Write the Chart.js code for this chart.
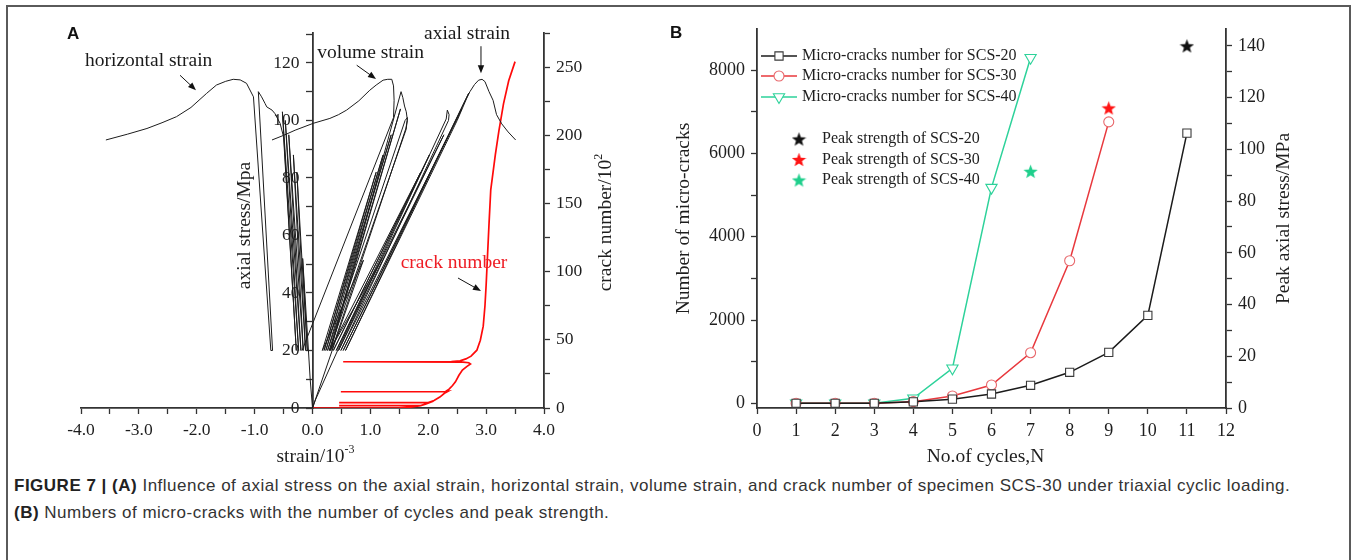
<!DOCTYPE html>
<html>
<head>
<meta charset="utf-8">
<script src="https://cdn.jsdelivr.net/npm/chart.js@4.4.1/dist/chart.umd.min.js"></script>
<style>
html,body{margin:0;padding:0;background:#fff;}
body{width:1357px;height:560px;position:relative;overflow:hidden;}
#frame{position:absolute;left:6px;top:5px;width:1345px;height:640px;border:2px solid #5a5a5a;box-sizing:border-box;}
canvas{position:absolute;top:0;}
#cA{left:0;}
#cB{left:660px;}
#caption{position:absolute;left:14px;top:472px;font-family:'Liberation Sans',Arial,sans-serif;font-size:17px;letter-spacing:0.5px;line-height:27px;color:#333;white-space:nowrap;}
#caption b{color:#222;}
</style>
</head>
<body>
<div id="frame"></div>
<canvas id="cA" width="660" height="470"></canvas>
<canvas id="cB" width="697" height="470"></canvas>
<div id="caption"><b>FIGURE 7 | (A)</b> Influence of axial stress on the axial strain, horizontal strain, volume strain, and crack number of specimen SCS-30 under triaxial cyclic loading.<br><b>(B)</b> Numbers of micro-cracks with the number of cycles and peak strength.</div>
<script>
// ================= PANEL A DATA =================
const strainTicks = [-4,-3.5,-3,-2.5,-2,-1.5,-1,-0.5,0,0.5,1,1.5,2,2.5,3,3.5,4];
const stressTicks = [0,10,20,30,40,50,60,70,80,90,100,110,120,130];
const crackTicks = [0,25,50,75,100,125,150,175,200,225,250,275];

// [strain (10^-3), axial stress (MPa)]
const horizontalStrain = [[0,0],[-0.04,10],[-0.07,20],[-0.17,52],[-0.09,20],[-0.27,82],[-0.12,20],[-0.33,88],
  [-0.16,20],[-0.41,95],[-0.20,20],[-0.47,100],[-0.24,20],[-0.52,103],[-0.28,20],[-0.50,94.3],[-0.56,99],
  [-0.65,102.4],[-0.70,103.6],[-0.79,104.7],[-0.82,105.9],[-0.88,108.2],[-0.936,110],[-0.69,20],[-0.72,20],
  [-1.02,108.2],[-1.14,112.9],[-1.25,114.1],[-1.37,114.3],[-1.5,113.6],[-1.66,112.3],[-1.83,109.4],[-2.1,104.5],
  [-2.35,101.3],[-2.6,99.2],[-2.86,97.2],[-3.2,95.2],[-3.57,93.2]];
const volumeStrain = [[0,0],[0.45,26.5],[0.88,51.4],[0.17,20],[1.10,82],[0.20,20],[1.22,88],[0.23,20],[1.36,95],
  [0.26,20],[1.60,100],[1.64,101],[1.62,97],[0.29,20],[1.52,104],[0.31,20],[1.53,110],[1.56,108],[1.59,105],
  [1.62,103],[1.64,100],[1.61,97],[0.33,20]];
const volumeStrainLast = [[-0.18,20],[1.40,101],[1.41,107],[1.40,112],[1.37,114.3],[1.3,114.3],[1.22,114],
  [1.1,112.3],[0.99,110.5],[0.8,106.8],[0.59,103.6],[0.45,102],[0.30,100.7],[0.014,99],[-0.3,96.6],[-0.5,94.8],[-0.70,93.2]];
const axialStrain = [[0,0],[0.05,2.8],[0.45,20.7],[0.8,36],[1.2,52],[0.30,20],[1.87,82],[0.36,20],[2.02,88],
  [0.41,20],[2.27,95],[0.45,20],[2.31,100.5],[2.33,103.6],[2.36,102],[2.35,100],[0.49,20],[2.58,104],[0.53,20],
  [2.70,109.5],[0.57,20],[2.5,100],[2.66,107.5],[2.72,110],[2.8,112.5],[2.87,114],[2.93,114.3],[2.98,113.5],
  [3.05,110],[3.12,107],[3.18,102],[3.27,98.8],[3.38,96],[3.51,93.2]];
// [axial strain (10^-3), crack number (10^2)]
const crackNumber = [[0,0],[1.5,0.1],[1.7,0.7],[1.87,1.7],[0.46,1.7],[1.87,1.8],[1.95,2.8],[2.02,3.9],[0.46,3.9],
  [2.0,4.0],[2.1,5.5],[2.2,8],[2.28,10.8],[2.34,12.2],[2.3,12],[0.49,11.9],[2.3,12.1],[2.36,13.8],[2.42,16.5],
  [2.47,19.2],[2.53,24],[2.59,27.8],[2.67,30.5],[2.73,32.3],[2.70,33.2],[2.6,33.6],[0.53,33.9],[2.4,34.1],
  [2.55,34.6],[2.65,36],[2.74,38],[2.84,42.4],[2.90,49.7],[2.95,60],[2.98,75],[3.0,90],[3.02,108],[3.05,135],
  [3.08,160],[3.16,186],[3.22,203],[3.30,223],[3.39,240],[3.5,254]];

// ================= PANEL B DATA =================
const cycleTicks = [0,1,2,3,4,5,6,7,8,9,10,11,12];
const microCrackTicks = [0,1000,2000,3000,4000,5000,6000,7000,8000];
const peakStressTicks = [0,10,20,30,40,50,60,70,80,90,100,110,120,130,140];
const cycles = [1,2,3,4,5,6,7,8,9,10,11];
const microCracksSCS20 = [0,0,0,35,100,223,432,744,1224,2112,6490];
const microCracksSCS30 = [0,0,0,40,175,440,1215,3424,6760];
const microCracksSCS40 = [0,0,0,120,840,5180,8300];
const peakCycle = [11,9,7];
const peakStrength = [140,116,91.5];
const lineSeriesNames = ['Micro-cracks number for SCS-20','Micro-cracks number for SCS-30','Micro-cracks number for SCS-40'];
const starSeriesNames = ['Peak strength of SCS-20','Peak strength of SCS-30','Peak strength of SCS-40'];

// ================= STYLE =================
const SERIF = "'Liberation Serif','Times New Roman',serif";
const SANS = "'Liberation Sans',Arial,sans-serif";
const INK = '#1e1e1e';
const AXIS = '#333';
Chart.defaults.font.family = SERIF;

const toXY = arr => arr.map(p => ({x:p[0], y:p[1]}));

function makeAxis(o) {
  const a = {
    type:'linear', position:o.position, min:o.min, max:o.max,
    afterBuildTicks: s => { s.ticks = o.values.map(v => ({value:v})); },
    grid:{display:true, drawOnChartArea:false, drawTicks:true, tickLength:6, color:AXIS, tickWidth:1.3},
    border:{display:true, color:AXIS, width:1.8},
    ticks:{autoSkip:false, maxRotation:0, minRotation:0, padding:6, color:INK,
      font:{family:SERIF, size:o.fontSize}, callback: v => (o.show(v) ? o.fmt(v) : '')}
  };
  if (o.fit) a.afterFit = o.fit;
  return a;
}

function drawArrow(ctx,x1,y1,x2,y2){
  const ang=Math.atan2(y2-y1,x2-x1), L=8, W=3.2;
  ctx.strokeStyle='#111'; ctx.fillStyle='#111'; ctx.lineWidth=1;
  ctx.beginPath(); ctx.moveTo(x1,y1); ctx.lineTo(x2-L*0.8*Math.cos(ang), y2-L*0.8*Math.sin(ang)); ctx.stroke();
  ctx.beginPath(); ctx.moveTo(x2,y2);
  ctx.lineTo(x2-L*Math.cos(ang)+W*Math.sin(ang), y2-L*Math.sin(ang)-W*Math.cos(ang));
  ctx.lineTo(x2-L*Math.cos(ang)-W*Math.sin(ang), y2-L*Math.sin(ang)+W*Math.cos(ang));
  ctx.closePath(); ctx.fill();
}

function drawTitle(ctx, parts, cx, cy, rot) {
  ctx.save();
  ctx.translate(cx, cy);
  if (rot) ctx.rotate(rot);
  let total = 0;
  parts.forEach(p => { ctx.font = p.font; p.w = ctx.measureText(p.t).width; total += p.w; });
  let x = -total/2;
  ctx.textAlign = 'left'; ctx.textBaseline = 'middle';
  parts.forEach(p => { ctx.font = p.font; ctx.fillStyle = p.color || INK; ctx.fillText(p.t, x, p.dy || 0); x += p.w; });
  ctx.restore();
}

const TF = `19.5px ${SERIF}`;
const SUP = `12px ${SERIF}`;

// annotation placement (data coordinates of panel A)
const annotationsA = [
  {text:'horizontal strain', at:[-3.93,120.6], color:'#1a1a1a'},
  {text:'volume strain', at:[0.083,123.5], color:'#1a1a1a'},
  {text:'axial strain', at:[1.927,130.2], color:'#1a1a1a'},
  {text:'crack number', at:[1.524,50.3], color:'#ee1c24'}
];
const arrowsA = [
  {from:[-2.289,115.7], to:[-2.013,110.5]},
  {from:[0.764,119.2], to:[1.097,114.4]},
  {from:[2.911,125.8], to:[2.911,116.4]},
  {from:[2.514,45.2], to:[2.911,40.7]}
];

const decorA = {
  id:'decorA',
  afterDraw(chart) {
    const {ctx, chartArea:ca, scales} = chart;
    const X = scales.x, Y = scales.y;
    ctx.save();
    ctx.fillStyle = '#111'; ctx.font = `bold 17px ${SANS}`; ctx.textBaseline = 'middle'; ctx.textAlign = 'left';
    ctx.fillText('A', 67, 34);
    ctx.font = TF;
    annotationsA.forEach(a => { ctx.fillStyle = a.color; ctx.fillText(a.text, X.getPixelForValue(a.at[0]), Y.getPixelForValue(a.at[1])); });
    arrowsA.forEach(a => drawArrow(ctx, X.getPixelForValue(a.from[0]), Y.getPixelForValue(a.from[1]), X.getPixelForValue(a.to[0]), Y.getPixelForValue(a.to[1])));
    const x0 = X.getPixelForValue(0), cy = (ca.top + ca.bottom)/2;
    drawTitle(ctx, [{t:'strain/10', font:TF}, {t:'-3', font:SUP, dy:-7}], x0 + 3, ca.bottom + 49, 0);
    drawTitle(ctx, [{t:'axial stress/Mpa', font:TF}], x0 - 67.5, cy + 5, -Math.PI/2);
    drawTitle(ctx, [{t:'crack number/10', font:TF}, {t:'2', font:SUP, dy:-7}], ca.right + 62, cy + 2, -Math.PI/2);
    ctx.restore();
  }
};

const blackLine = {borderColor:'#1c1c1c', borderWidth:1, pointRadius:0, showLine:true, tension:0, fill:false, yAxisID:'y'};

new Chart(document.getElementById('cA'), {
  type:'scatter',
  data:{datasets:[
    Object.assign({label:'horizontal strain', data:toXY(horizontalStrain)}, blackLine),
    Object.assign({label:'volume strain', data:toXY(volumeStrain)}, blackLine),
    Object.assign({label:'volume strain (last cycle)', data:toXY(volumeStrainLast)}, blackLine),
    Object.assign({label:'axial strain', data:toXY(axialStrain)}, blackLine),
    {label:'crack number', data:toXY(crackNumber), borderColor:'#ff0a0a', borderWidth:1.7, pointRadius:0, showLine:true, tension:0, fill:false, yAxisID:'y2'}
  ]},
  options:{
    responsive:false, animation:false, events:[],
    layout:{padding:{left:81, right:0, top:33, bottom:22}},
    plugins:{legend:{display:false}, tooltip:{enabled:false}},
    scales:{
      x: makeAxis({position:'bottom', min:-4, max:4, values:strainTicks, fontSize:17.5,
        show:v => Number.isInteger(v), fmt:v => v.toFixed(1), fit:s => { s.height = 40; }}),
      // axis drawn at strain = 0; labels sit right-aligned on the axis, so pad them with trailing spaces
      y: makeAxis({position:{x:0}, min:0, max:130.4, values:stressTicks, fontSize:17.5,
        show:v => v % 20 === 0, fmt:v => String(v) + '   '}),
      y2: makeAxis({position:'right', min:0, max:275, values:crackTicks, fontSize:17.5,
        show:v => v % 50 === 0, fmt:v => String(v), fit:s => { s.width = 116; }})
    }
  },
  plugins:[decorA]
});

// ================= PANEL B =================
function makeStar(color, size) {
  const c = document.createElement('canvas'); c.width = size; c.height = size;
  const g = c.getContext('2d'); g.fillStyle = color; g.beginPath();
  const cx = size/2, cy = size/2 + 0.8, R = size/2, r = R*0.42;
  for (let i = 0; i < 10; i++) {
    const a = -Math.PI/2 + i*Math.PI/5, rr = i % 2 ? r : R;
    g.lineTo(cx + rr*Math.cos(a), cy + rr*Math.sin(a));
  }
  g.closePath(); g.fill();
  return c;
}
const starColors = ['#111111','#ff1414','#1fcf8c'];
const starImgs = starColors.map(c => makeStar(c, 15));
const lineColors = ['#1b1b1b','#e8383d','#2dd29a'];
const markerColors = ['#3a3a3a','#e8686c','#2dd29a'];
const markerStyles = ['rect','circle','triangle'];
const markerRadius = [5.8,5,6.5];
const markerRotation = [0,0,180];
const lineData = [microCracksSCS20, microCracksSCS30, microCracksSCS40];

const datasetsB = lineData.map((vals, i) => ({
  label: lineSeriesNames[i],
  data: vals.map((v, j) => ({x:cycles[j], y:v})),
  showLine:true, tension:0, fill:false, borderColor:lineColors[i], borderWidth:1.5,
  pointStyle:markerStyles[i], pointRadius:markerRadius[i], pointRotation:markerRotation[i],
  pointBackgroundColor:'#ffffff', pointBorderColor:markerColors[i], pointBorderWidth:1.1, yAxisID:'y'
})).concat(peakCycle.map((c, i) => ({
  label: starSeriesNames[i],
  data:[{x:c, y:peakStrength[i]}],
  showLine:false, pointStyle:starImgs[i], pointRadius:7, yAxisID:'y2'
})));

const decorB = {
  id:'decorB',
  afterDraw(chart) {
    const {ctx, chartArea:ca} = chart;
    const ds = chart.data.datasets;
    ctx.save();
    ctx.fillStyle = '#111'; ctx.font = `bold 17px ${SANS}`; ctx.textBaseline = 'middle'; ctx.textAlign = 'left';
    ctx.fillText('B', 10, 33);
    const rows = [27, 47, 68];
    for (let i = 0; i < 3; i++) {
      const y = ca.top + rows[i];
      ctx.strokeStyle = ds[i].borderColor; ctx.lineWidth = 1.5;
      ctx.beginPath(); ctx.moveTo(ca.left + 4, y); ctx.lineTo(ca.left + 40, y); ctx.stroke();
      ctx.fillStyle = '#fff'; ctx.strokeStyle = ds[i].pointBorderColor; ctx.lineWidth = 1.1;
      Chart.helpers.drawPoint(ctx, {pointStyle:ds[i].pointStyle, radius:ds[i].pointRadius, rotation:ds[i].pointRotation, borderWidth:1.1}, ca.left + 22, y);
      ctx.fillStyle = INK; ctx.font = `16px ${SERIF}`;
      ctx.fillText(ds[i].label, ca.left + 45, y);
    }
    const srows = [110, 130.5, 151];
    for (let i = 0; i < 3; i++) {
      const y = ca.top + srows[i];
      const img = ds[3 + i].pointStyle;
      ctx.drawImage(img, ca.left + 42 - img.width/2, y - img.height/2);
      ctx.fillStyle = INK; ctx.font = `16px ${SERIF}`;
      ctx.fillText(ds[3 + i].label, ca.left + 65, y);
    }
    const cy = (ca.top + ca.bottom)/2;
    drawTitle(ctx, [{t:'Number of micro-cracks', font:TF}], ca.left - 73, cy, -Math.PI/2);
    drawTitle(ctx, [{t:'Peak axial stress/MPa', font:TF}], ca.right + 58, cy, -Math.PI/2);
    drawTitle(ctx, [{t:'No.of cycles,N', font:TF}], (ca.left + ca.right)/2 - 6, ca.bottom + 49, 0);
    ctx.restore();
  }
};

new Chart(document.getElementById('cB'), {
  type:'scatter',
  data:{datasets:datasetsB},
  options:{
    responsive:false, animation:false, events:[],
    layout:{padding:{left:0, right:0, top:29, bottom:22}},
    plugins:{legend:{display:false}, tooltip:{enabled:false}},
    scales:{
      x: makeAxis({position:'bottom', min:0, max:12, values:cycleTicks, fontSize:18,
        show:v => true, fmt:v => String(v), fit:s => { s.height = 40; }}),
      y: makeAxis({position:'left', min:-113, max:8990, values:microCrackTicks, fontSize:18,
        show:v => v % 2000 === 0, fmt:v => String(v), fit:s => { s.width = 97; }}),
      y2: makeAxis({position:'right', min:0, max:146.5, values:peakStressTicks, fontSize:18,
        show:v => v % 20 === 0, fmt:v => String(v), fit:s => { s.width = 131; }})
    }
  },
  plugins:[decorB]
});
</script>
</body>
</html>
